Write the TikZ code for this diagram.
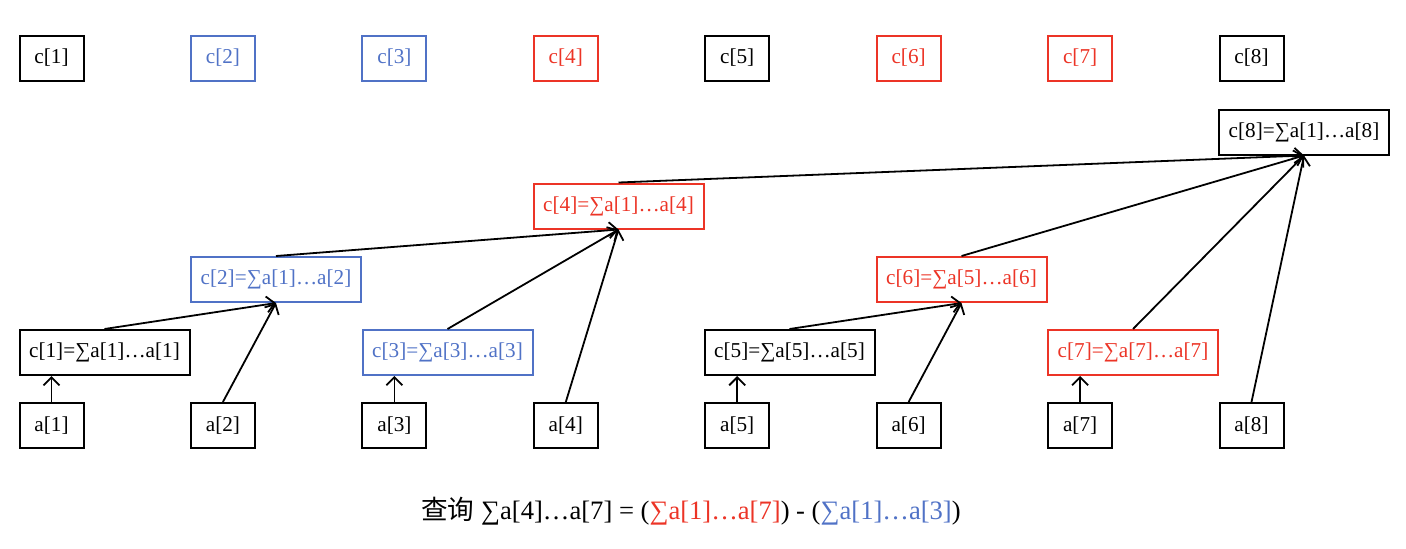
\documentclass[tikz,border=0pt]{standalone}
\usepackage{fontspec}
\setmainfont{Liberation Serif}
\newfontfamily\cjk{Noto Sans CJK SC}
\usetikzlibrary{arrows.meta}
\definecolor{treeblue}{RGB}{80,114,198}
\definecolor{treered}{RGB}{236,52,38}
\begin{document}
\begin{tikzpicture}[x=0.5pt,y=-0.5pt,
    cell/.style={rectangle,draw,line width=1pt,inner sep=0pt,minimum width=32pt,minimum height=22.5pt,font=\fontsize{10.6}{12}\selectfont},
    sumcell/.style={cell,minimum width=85pt},
    arrow/.style={line width=0.9pt,-{Straight Barb[length=4pt,width=8pt,line width=0.9pt]}}]
    \useasboundingbox (0,0) rectangle (1406,548);
    % array c
    \node[cell] (node1) at (51.5,58) {c[1]};
    \node[cell,draw=treeblue,text=treeblue] (node2) at (222.9,58) {c[2]};
    \node[cell,draw=treeblue,text=treeblue] (node3) at (394.4,58) {c[3]};
    \node[cell,draw=treered,text=treered] (node4) at (565.8,58) {c[4]};
    \node[cell] (node5) at (737.2,58) {c[5]};
    \node[cell,draw=treered,text=treered] (node6) at (908.6,58) {c[6]};
    \node[cell,draw=treered,text=treered] (node7) at (1080.1,58) {c[7]};
    \node[cell] (node8) at (1251.5,58) {c[8]};
    % array a
    \node[cell] (node9) at (51.5,425.5) {a[1]};
    \node[cell] (node10) at (222.9,425.5) {a[2]};
    \node[cell] (node11) at (394.4,425.5) {a[3]};
    \node[cell] (node12) at (565.8,425.5) {a[4]};
    \node[cell] (node13) at (737.2,425.5) {a[5]};
    \node[cell] (node14) at (908.6,425.5) {a[6]};
    \node[cell] (node15) at (1080.1,425.5) {a[7]};
    \node[cell] (node16) at (1251.5,425.5) {a[8]};
    % tree
    \node[sumcell] (node17) at (104.5,352.5) {c[1]=∑a[1]…a[1]};
    \node[sumcell,draw=treeblue,text=treeblue] (node18) at (276,279.5) {c[2]=∑a[1]…a[2]};
    \node[sumcell,draw=treeblue,text=treeblue] (node19) at (447.5,352.5) {c[3]=∑a[3]…a[3]};
    \node[sumcell,draw=treered,text=treered] (node20) at (618.5,206) {c[4]=∑a[1]…a[4]};
    \node[sumcell] (node21) at (789.5,352.5) {c[5]=∑a[5]…a[5]};
    \node[sumcell,draw=treered,text=treered] (node22) at (961.5,279.5) {c[6]=∑a[5]…a[6]};
    \node[sumcell,draw=treered,text=treered] (node23) at (1133,352.5) {c[7]=∑a[7]…a[7]};
    \node[sumcell] (node24) at (1304,132) {c[8]=∑a[1]…a[8]};
    % arrows
    \draw[arrow] (node9.north) -- (node9.north |- node17.south);
    \draw[arrow] (node11.north) -- (node11.north |- node19.south);
    \draw[arrow] (node13.north) -- (node13.north |- node21.south);
    \draw[arrow] (node15.north) -- (node15.north |- node23.south);
    \draw[arrow] (node17.north) -- (node18.south);
    \draw[arrow] (node10.north) -- (node18.south);
    \draw[arrow] (node18.north) -- (node20.south);
    \draw[arrow] (node19.north) -- (node20.south);
    \draw[arrow] (node12.north) -- (node20.south);
    \draw[arrow] (node21.north) -- (node22.south);
    \draw[arrow] (node14.north) -- (node22.south);
    \draw[arrow] (node20.north) -- (node24.south);
    \draw[arrow] (node22.north) -- (node24.south);
    \draw[arrow] (node23.north) -- (node24.south);
    \draw[arrow] (node16.north) -- (node24.south);
    % query
    \node[font=\fontsize{13.3}{15}\selectfont] (node25) at (691,511) {{\cjk 查询} ∑a[4]…a[7] = (\textcolor{treered}{∑a[1]…a[7]}) - (\textcolor{treeblue}{∑a[1]…a[3]})};
\end{tikzpicture}
\end{document}
